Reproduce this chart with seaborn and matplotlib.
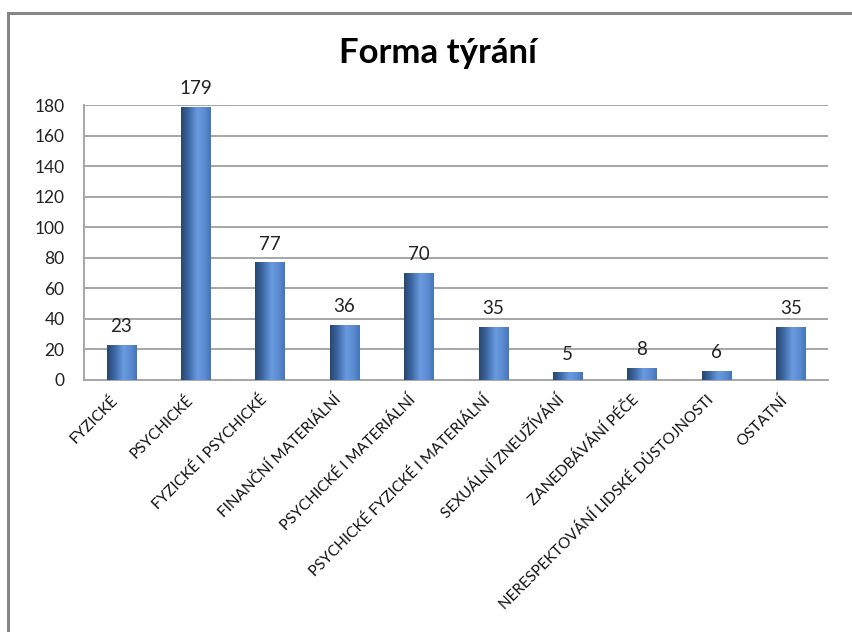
import numpy as np
import pandas as pd
import matplotlib
matplotlib.use("Agg")
import matplotlib.pyplot as plt
import seaborn as sns
from matplotlib.colors import LinearSegmentedColormap
from matplotlib.patches import Rectangle
import matplotlib.transforms as mtransforms

categories = ["FYZICKÉ", "PSYCHICKÉ", "FYZICKÉ I PSYCHICKÉ", "FINANČNÍ MATERIÁLNÍ",
              "PSYCHICKÉ I MATERIÁLNÍ", "PSYCHICKÉ FYZICKÉ I MATERIÁLNÍ",
              "SEXUÁLNÍ ZNEUŽÍVÁNÍ", "ZANEDBÁVÁNÍ PÉČE",
              "NERESPEKTOVÁNÍ LIDSKÉ DŮSTOJNOSTI", "OSTATNÍ"]
values = [23, 179, 77, 36, 70, 35, 5, 8, 6, 35]
yticks = [0, 20, 40, 60, 80, 100, 120, 140, 160, 180]
title = "Forma týrání"

sns.set_theme(style="white")
plt.rcParams['font.family'] = ['Lato', 'DejaVu Sans']

df = pd.DataFrame({"cat": categories, "val": values})

fig = plt.figure(figsize=(8.52, 6.32), dpi=100)
W, H = 852, 632
ax = fig.add_axes([84 / W, (H - 380) / H, (828 - 84) / W, 275 / H])

sns.barplot(data=df, x="cat", y="val", ax=ax, width=0.39, color="#4f81bd",
            edgecolor="none", linewidth=0, zorder=3)

ax.set_ylim(0, 180)
ax.set_xlim(-0.5, len(categories) - 0.5)
ax.set_yticks(yticks)
ax.set_yticklabels([str(t) for t in yticks], fontsize=12.5, color="#222222")
ax.yaxis.grid(True, color="#a6a6a6", linewidth=1.4, zorder=0)
ax.set_axisbelow(True)
ax.set_xlabel("")
ax.set_ylabel("")
for s in ["top", "right"]:
    ax.spines[s].set_visible(False)
for s in ["left", "bottom"]:
    ax.spines[s].set_color("#a6a6a6")
    ax.spines[s].set_linewidth(1.4)
ax.tick_params(axis="y", length=4, color="#a6a6a6", width=1.2, pad=10)
ax.tick_params(axis="x", length=0, pad=2)
ax.set_xticks(range(len(categories)))
ax.set_xticklabels(categories, rotation=45, ha="right", va="top",
                   rotation_mode="anchor", fontsize=11, color="#111111")
for lbl in ax.get_xticklabels():
    lbl.set_transform(lbl.get_transform() +
                      mtransforms.ScaledTranslation(-7.5/72, -7/72, fig.dpi_scale_trans))

# gradient fill
cmap = LinearSegmentedColormap.from_list("barg", [
    (0.0, "#27456f"), (0.25, "#3c67a3"), (0.55, "#6a9be0"), (0.8, "#5b8ad0"), (1.0, "#4575b5")])
grad = np.linspace(0, 1, 256).reshape(1, -1)
for p in ax.patches:
    x0, y0 = p.get_x(), p.get_y()
    w, h = p.get_width(), p.get_height()
    if h <= 0:
        continue
    im = ax.imshow(grad, extent=[x0, x0 + w, y0, y0 + h], cmap=cmap,
                   aspect="auto", zorder=4, interpolation="bicubic")
    im.set_clip_path(p)
ax.set_xlim(-0.5, len(categories) - 0.5)
ax.set_ylim(0, 180)

for i, v in enumerate(values):
    ax.annotate(str(v), (i, v), xytext=(0, 7), textcoords="offset points",
                ha="center", va="bottom", fontsize=13.5, color="#222222", zorder=5)

fig.text(438 / W, 1 - 53 / H, title, ha="center", va="center",
         fontsize=25, fontweight="bold", color="black")

border = Rectangle((8 / W, -0.1), 1.2, (H - 13) / H + 0.1, transform=fig.transFigure,
                   fill=False, edgecolor="#868686", linewidth=2.2, clip_on=False)
fig.patches.append(border)

fig.savefig("out.png", dpi=100)
